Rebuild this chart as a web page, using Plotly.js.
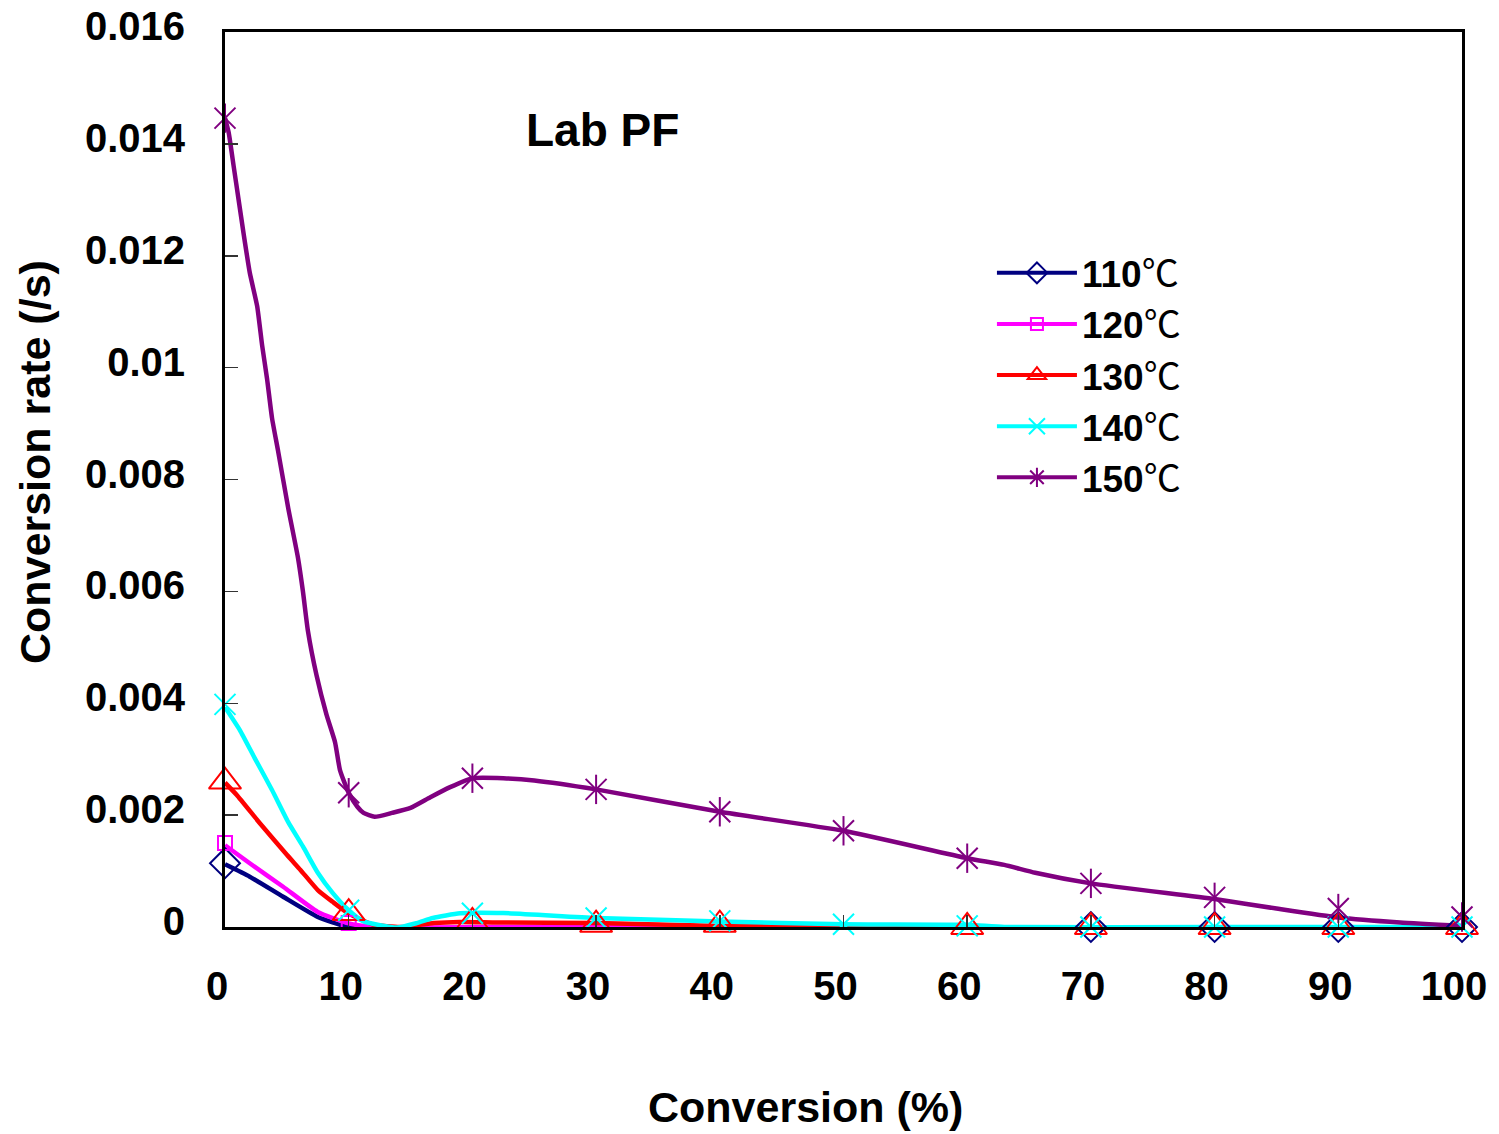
<!DOCTYPE html>
<html>
<head>
<meta charset="utf-8">
<script src="https://cdn.plot.ly/plotly-3.0.1.min.js"></script>
<style>html,body{margin:0;padding:0;background:#fff;}#chart{width:1499px;height:1134px;}</style>
</head>
<body>
<div id="chart"></div>
<script>
// ---- data ----
const markerX = [0, 10, 20, 30, 40, 50, 60, 70, 80, 90, 100];
const xTickVals = [0, 10, 20, 30, 40, 50, 60, 70, 80, 90, 100];
const xTickText = ['0', '10', '20', '30', '40', '50', '60', '70', '80', '90', '100'];
const yTickVals = [0, 0.002, 0.004, 0.006, 0.008, 0.01, 0.012, 0.014, 0.016];
const yTickText = ['0', '0.002', '0.004', '0.006', '0.008', '0.01', '0.012', '0.014', '0.016'];
const seriesNames = ['110℃', '120℃', '130℃', '140℃', '150℃'];
const xTitle = 'Conversion (%)';
const yTitle = 'Conversion rate (/s)';
const panelLabel = 'Lab PF';

// smoothed curve points
const line110X = [0, 2.0, 4.7, 7.5, 9.9, 12.5, 16.8, 22.2, 40, 60, 80, 100];
const line110Y = [0.00112, 0.0009, 0.00054, 0.00018, 0.0, -0.0001, -0.00005, -0.00002, -0.00002, -0.00002, -0.00002, -0.00001];
const line120X = [0, 2.0, 4.7, 7.5, 9.9, 12.5, 16, 22, 40, 60, 80, 100];
const line120Y = [0.00146, 0.00114, 0.00072, 0.00027, 0.00007, -0.00002, -0.00001, 0, -0.00001, -0.00001, -0.00001, -0.00001];
const line130X = [0, 0.95, 2.8, 5.0, 6.1, 7.5, 8.7, 10, 12.0, 14.2, 16.9, 19, 22, 30, 40, 50, 60, 70, 85, 100];
const line130Y = [0.00258, 0.00236, 0.00186, 0.00129, 0.00102, 0.00066, 0.00045, 0.00024, 0.00004, 0.0, 0.00007, 0.00009, 0.00008, 0.00007, 0.00002, 0.0, -0.00002, -0.00002, -0.00002, -0.00002];
const line140X = [0, 1.2, 2.4, 3.8, 5.1, 6.3, 7.5, 8.7, 10, 11.2, 13.9, 15.5, 16.8, 19, 22.5, 30, 40, 50, 60, 63, 80, 100];
const line140Y = [0.00393, 0.00352, 0.00302, 0.00245, 0.00188, 0.00144, 0.00097, 0.00061, 0.0003, 0.0001, -0.00001, 0.00007, 0.00016, 0.000245, 0.00025, 0.00016, 0.0001, 0.00005, 0.00004, 0.0, 0.0, 0.0];
const line150X = [0, 0.3, 0.7, 1.1, 1.5, 2.0, 2.6, 3.0, 3.4, 3.8, 4.3, 5.1, 5.9, 6.3, 6.7, 7.4, 8.2, 8.9, 9.3, 10.0, 10.7, 11.2, 12.1, 13.5, 15.0, 16.6, 18.2, 20.0, 22.5, 25, 30, 40, 50, 60, 63, 65.5, 70, 80, 85, 90, 95, 100];
const line150Y = [0.01446, 0.0142, 0.0136, 0.0130, 0.0124, 0.0117, 0.0111, 0.0104, 0.0098, 0.0091, 0.0085, 0.0075, 0.0066, 0.0060, 0.0053, 0.0045, 0.0038, 0.0033, 0.0028, 0.0024, 0.00215, 0.00204, 0.00197, 0.00204, 0.00213, 0.00232, 0.0025, 0.00266, 0.00266, 0.00262, 0.00246, 0.00206, 0.00172, 0.00123, 0.00111, 0.00097, 0.00078, 0.0005, 0.00033, 0.00017, 0.00008, 0.00002];

// marker points
const mark110 = [0.00114, -0.00002, -0.00001, -0.00003, -0.00003, -0.00003, -0.00002, 0, 0, 0, 0];
const mark120 = [0.0015, 0.00007, -0.00002, -0.00002, -0.00002, -0.00002, -0.00002, -0.00001, -0.00001, -0.00001, -0.00001];
const mark130 = [0.0026, 0.00025, 0.00009, 0.00004, 0.00004, -0.00001, 0, 0, 0, 0, 0];
const mark140 = [0.00398, 0.0003, 0.000245, 0.00016, 0.00011, 0.00005, 0.00002, 0, 0, 0, 0];
const mark150 = [0.01446, 0.0024, 0.00266, 0.00246, 0.00206, 0.00172, 0.00123, 0.00078, 0.00053, 0.00033, 0.00018];

const colors = ['#000080', '#ff00ff', '#ff0000', '#00ffff', '#800080'];
const FONT = 'Liberation Sans, Arial, sans-serif';

function lineTrace(x, y, c) {
  return {x: x, y: y, type: 'scatter', mode: 'lines', showlegend: false, hoverinfo: 'skip',
    line: {color: c, width: 4.5, shape: 'spline', smoothing: 0.5}, cliponaxis: false};
}
function markTrace(y, c, sym, size) {
  return {x: markerX, y: y, type: 'scatter', mode: 'markers', showlegend: false, cliponaxis: false,
    marker: {symbol: sym, size: size, color: c, line: {color: c, width: 2}}};
}
function legendTrace(name, c, sym, size) {
  return {x: [null], y: [null], type: 'scatter', mode: 'lines+markers', name: name,
    line: {color: c, width: 4}, marker: {symbol: sym, size: size, color: c, line: {color: c, width: 2}}};
}
function labelHtml(n) {
  return n.replace('℃', '<span style="font-weight:normal;font-family:\'Noto Sans CJK JP\'">℃</span>');
}

const traces = [
  lineTrace(line110X, line110Y, colors[0]),
  lineTrace(line120X, line120Y, colors[1]),
  lineTrace(line130X, line130Y, colors[2]),
  lineTrace(line140X, line140Y, colors[3]),
  lineTrace(line150X, line150Y, colors[4]),
  markTrace(mark110, colors[0], 'diamond-open', 23),
  markTrace(mark120, colors[1], 'square-open', 14),
  markTrace(mark130, colors[2], 'triangle-up-open', 28),
  markTrace(mark140, colors[3], 'x-thin-open', 21),
  markTrace(mark150, colors[4], 'x-thin-open', 21),
  markTrace(mark150, colors[4], 'line-ns-open', 21),
  legendTrace(labelHtml(seriesNames[0]), colors[0], 'diamond-open', 16),
  legendTrace(labelHtml(seriesNames[1]), colors[1], 'square-open', 12),
  legendTrace(labelHtml(seriesNames[2]), colors[2], 'triangle-up-open', 16),
  legendTrace(labelHtml(seriesNames[3]), colors[3], 'x-thin-open', 16),
  legendTrace(labelHtml(seriesNames[4]), colors[4], 'asterisk-open', 16)
];

const layout = {
  width: 1499, height: 1134,
  margin: {l: 225, r: 37, t: 32, b: 207},
  paper_bgcolor: '#fff', plot_bgcolor: '#fff',
  font: {family: FONT, color: '#000'},
  showlegend: true,
  legend: {x: 0.62, y: 0.765, xanchor: 'left', yanchor: 'top', itemwidth: 80,
    bgcolor: 'rgba(0,0,0,0)', font: {size: 37, family: FONT, weight: 'bold', color: '#000'}, tracegroupgap: 0},
  xaxis: {range: [0, 100], tickmode: 'array', tickvals: xTickVals, ticktext: xTickText,
    showgrid: false, zeroline: false, showline: true, mirror: true, linecolor: '#000', linewidth: 3,
    ticks: 'inside', ticklen: 12, tickwidth: 1.5, tickcolor: '#333',
    tickfont: {size: 40, family: FONT, weight: 'bold'}, ticklabelstandoff: 22, ticklabelshift: -8},
  yaxis: {range: [0, 0.016], tickmode: 'array', tickvals: yTickVals, ticktext: yTickText,
    showgrid: false, zeroline: false, showline: true, mirror: true, linecolor: '#000', linewidth: 3,
    ticks: 'inside', ticklen: 13, tickwidth: 1.5, tickcolor: '#333',
    tickfont: {size: 40, family: FONT, weight: 'bold'}, ticklabelstandoff: 29, ticklabelshift: -6},
  annotations: [
    {text: panelLabel, xref: 'x', yref: 'y', x: 30.5, y: 0.01425, showarrow: false,
      font: {size: 46, family: FONT, weight: 'bold', color: '#000'}},
    {text: xTitle, xref: 'paper', yref: 'paper', x: 0.469, y: -0.2011, showarrow: false,
      xanchor: 'center', yanchor: 'middle', font: {size: 43, family: FONT, weight: 'bold', color: '#000'}},
    {text: yTitle, xref: 'paper', yref: 'paper', x: -0.1536, y: 0.5196, showarrow: false, textangle: -90,
      xanchor: 'center', yanchor: 'middle', font: {size: 43, family: FONT, weight: 'bold', color: '#000'}}
  ]
};

Plotly.newPlot('chart', traces, layout, {displayModeBar: false, staticPlot: true});
</script>
</body>
</html>
